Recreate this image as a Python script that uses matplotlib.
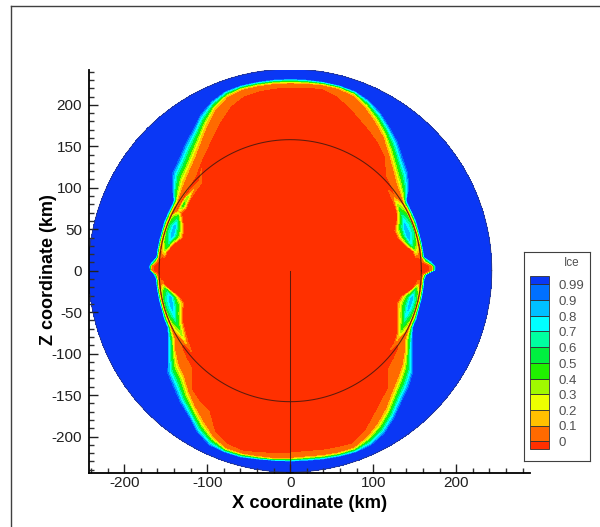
import numpy as np
import matplotlib
matplotlib.use("Agg")
import matplotlib.pyplot as plt
from matplotlib.patches import Rectangle

plt.rcParams['font.family'] = ['Liberation Sans', 'DejaVu Sans']
plt.rcParams['axes.unicode_minus'] = False

# Contour levels and colours of the Ice legend
levels = [-1, 0, 0.1, 0.2, 0.3, 0.4, 0.5, 0.6, 0.7, 0.8, 0.9, 0.99, 2]
colors = ['#ff3000', '#ff6a00', '#ffc000', '#ecff00', '#a0f800', '#20f000',
          '#00f040', '#00ffa0', '#00ffff', '#00c0ff', '#0070ff', '#0a37f5']
legend_labels = ['0', '0.1', '0.2', '0.3', '0.4', '0.5', '0.6', '0.7', '0.8', '0.9', '0.99']

outer_radius = 243
ring_radius = 158

# Angle away from the x axis (deg), the same for each quadrant
angles = [0, 2, 4, 6, 9, 13, 17, 21, 25, 28, 31, 35, 40, 45, 50, 55, 60, 65, 70, 75, 80, 85, 90]

# Radius (km) where ice leaves the red zone, ends the orange zone and reaches full blue
tl_red = [166, 166, 160, 158, 158, 158, 158, 158, 158, 158, 158, 158.5, 160, 165, 170, 178, 188, 200, 212, 219, 221, 222, 222]
tl_yellow = [168, 168, 162, 160, 160, 160, 160, 160, 160, 160, 160, 163, 168, 173, 180, 190, 203, 216, 224, 227, 227, 227, 227]
tl_blue = [170, 171, 168, 163, 163, 163, 163, 164, 164, 164, 165, 175, 186, 191, 199, 207, 218, 226, 231, 232, 232, 232, 232]

tr_red = [169, 169, 160, 158, 158, 158, 158, 158, 158, 158, 158, 159.5, 163, 172, 180, 188, 195, 202, 211, 219, 224, 223, 222]
tr_yellow = [172, 172, 162, 160, 160, 160, 160, 160, 160, 160, 160, 163, 168, 176, 186, 198, 208, 218, 226, 228, 228, 227, 227]
tr_blue = [176, 176, 171, 163, 163, 163, 163, 164, 164, 164, 165, 176, 186, 193, 203, 211, 220, 227, 231, 232, 232, 232, 232]

bl_red = [166, 159, 158, 158, 158, 158, 158, 158, 158, 158, 159, 165, 172, 179, 187, 193, 197, 216, 224, 226, 224, 222, 221]
bl_yellow = [168, 161, 160, 160, 160, 160, 160, 160, 160, 161, 163, 170, 177, 182, 192, 202, 212, 222, 229, 229, 228, 228, 227]
bl_blue = [170, 165, 163, 163, 163, 163, 163, 164, 164, 168, 173, 181, 194, 200, 208, 215, 226, 233, 234, 234, 232, 231, 231]

br_red = [169, 159, 158, 158, 158, 158, 158, 158, 158, 158, 158.5, 165, 172, 179, 186, 193, 203, 215, 223, 222, 221, 220, 221]
br_yellow = [172, 161, 160, 160, 160, 160, 160, 160, 160, 161, 163, 170, 178, 185, 193, 204, 214, 222, 228, 228, 227, 226, 227]
br_blue = [176, 165, 163, 163, 163, 163, 163, 164, 164, 168, 173, 181, 194, 202, 209, 219, 228, 233, 234, 233, 232, 231, 231]

# Pockets of ice just inside the ring: where the rise starts, peak radius and value, dip radius and value
pocket_angles = [6, 9, 13, 17, 21, 25, 28, 31, 35, 40, 45]

tl_start = [150, 150, 144, 136, 137, 143, 148, 146, 148, 149, 150]
tl_peak_r = [152, 153, 150, 148, 149, 150, 152, 151, 152, 152, 152.5]
tl_peak = [-0.01, 0.3, 0.65, 0.88, 0.85, 0.55, 0.15, 0.45, 0.35, 0.1, 0.05]
tl_dip_r = [155, 155, 155, 155, 155.5, 155, 154, 154.5, 155, 155, 155]
tl_dip = [-0.01, 0.2, 0.4, 0.55, 0.5, 0.35, -0.01, -0.01, -0.02, -0.02, -0.02]

tr_start = [150, 150, 141, 136, 135, 142, 146, 148, 150, 152, 153]
tr_peak_r = [152, 153, 149, 148, 148, 150, 151, 152, 153, 153, 154]
tr_peak = [-0.01, 0.3, 0.75, 0.9, 0.85, 0.7, 0.5, 0.35, 0.1, -0.01, -0.01]
tr_dip_r = [155, 155, 155, 155.5, 155.5, 155.5, 155.5, 155.5, 155, 155.5, 155.5]
tr_dip = [-0.01, 0.2, 0.4, 0.6, 0.6, 0.5, 0.35, 0.2, 0.0, -0.01, -0.01]

bl_start = [153, 147, 138, 134, 139, 143, 145, 147, 150, 153, 153]
bl_peak_r = [155, 151, 148, 149, 150, 151, 151, 152, 153, 154, 154]
bl_peak = [0.1, 0.55, 0.88, 0.85, 0.75, 0.55, 0.4, 0.3, 0.1, -0.01, -0.01]
bl_dip_r = [156, 155.5, 155.5, 155.5, 155.5, 155.5, 155.5, 155.5, 155.5, 156, 156]
bl_dip = [0.02, 0.35, 0.55, 0.55, 0.45, 0.3, 0.2, 0.05, -0.01, -0.01, -0.01]

br_start = [153, 148, 138, 135, 138, 143, 147, 150, 153, 153, 153]
br_peak_r = [155, 152, 150, 150, 150, 151, 152, 153, 154, 154, 154]
br_peak = [0.1, 0.55, 0.88, 0.85, 0.75, 0.55, 0.4, 0.2, 0.02, -0.01, -0.01]
br_dip_r = [156, 155.5, 155.5, 155.5, 155.5, 155.5, 155.5, 155.5, 156, 156, 156]
br_dip = [0.02, 0.35, 0.55, 0.55, 0.45, 0.3, 0.2, 0.05, -0.01, -0.01, -0.01]


def quadrant_rows(red, yellow, blue, start, peak_r, peak, dip_r, dip):
    """Build (radius, ice) node rows along the rays of one quadrant."""
    radius = []
    ice = []
    for i, a in enumerate(angles):
        if a in pocket_angles:
            k = pocket_angles.index(a)
            inner = [start[k], peak_r[k], dip_r[k]]
            values = [peak[k], dip[k]]
        else:
            inner = [red[i] - 6, red[i] - 4, red[i] - 2]
            values = [-0.01, -0.01]
        radius.append([0, inner[0], inner[1], inner[2], red[i], yellow[i], blue[i], outer_radius])
        ice.append([-0.05, -0.01, values[0], values[1], 0.01, 0.11, 0.99, 1.0])
    return np.array(radius, dtype=float), np.array(ice)


r_tr, c_tr = quadrant_rows(tr_red, tr_yellow, tr_blue, tr_start, tr_peak_r, tr_peak, tr_dip_r, tr_dip)
r_tl, c_tl = quadrant_rows(tl_red, tl_yellow, tl_blue, tl_start, tl_peak_r, tl_peak, tl_dip_r, tl_dip)
r_bl, c_bl = quadrant_rows(bl_red, bl_yellow, bl_blue, bl_start, bl_peak_r, bl_peak, bl_dip_r, bl_dip)
r_br, c_br = quadrant_rows(br_red, br_yellow, br_blue, br_start, br_peak_r, br_peak, br_dip_r, br_dip)

a = np.array(angles, dtype=float)
theta = np.radians(np.concatenate([a, 180 - a[::-1], 180 + a, 360 - a[::-1], [360]]))
radius = np.vstack([r_tr, r_tl[::-1], r_bl, r_br[::-1], r_tr[:1]])
ice = np.vstack([c_tr, c_tl[::-1], c_bl, c_br[::-1], c_tr[:1]])
X = radius * np.cos(theta)[:, None]
Z = radius * np.sin(theta)[:, None]

W, H = 600, 527
fig = plt.figure(figsize=(W / 100, H / 100), dpi=100)

# outer frame of the page
fig.add_artist(plt.Line2D([11 / W, 11 / W], [0, 1 - 6 / H], color='#404040', lw=1))
fig.add_artist(plt.Line2D([11 / W, 1], [1 - 6 / H, 1 - 6 / H], color='#404040', lw=1))

ax = fig.add_axes([89 / W, 1 - 473 / H, (530 - 89) / W, (473 - 70) / H])
ax.contourf(X, Z, ice, levels=levels, colors=colors)

t = np.linspace(0, 2 * np.pi, 361)
ax.plot(outer_radius * np.cos(t), outer_radius * np.sin(t), color='#303870', lw=0.5)
ax.plot(ring_radius * np.cos(t), ring_radius * np.sin(t), color='#401810', lw=0.75, alpha=0.85)
ax.plot([0, 0], [0, -outer_radius], color='#401810', lw=0.75, alpha=0.85)

ax.set_xlim(-242.5, 289)
ax.set_ylim(-244, 242)
ax.set_facecolor('none')
for side in ['top', 'right']:
    ax.spines[side].set_visible(False)
for side in ['left', 'bottom']:
    ax.spines[side].set_linewidth(1.3)

ax.set_xticks(np.arange(-200, 201, 100))
ax.set_xticks(np.arange(-240, 281, 20), minor=True)
ax.set_yticks(np.arange(-200, 201, 50))
ax.set_yticks(np.arange(-240, 241, 10), minor=True)
ax.tick_params(which='major', direction='in', length=6.5, width=1, labelsize=11, color='#202020')
ax.tick_params(which='minor', direction='in', length=3.5, width=1, color='#303030')
ax.tick_params(axis='x', which='major', pad=2.5)
ax.tick_params(axis='y', which='major', pad=5)
for lab in ax.get_xticklabels() + ax.get_yticklabels():
    lab.set_color('#202020')

fig.text(310 / W, 1 - 503 / H, 'X coordinate (km)', ha='center', va='center', fontsize=13.2, fontweight='bold')
fig.text(49 / W, 1 - 270 / H, 'Z coordinate (km)', ha='center', va='center', rotation=90, fontsize=13, fontweight='bold')

# Ice legend box
leg = fig.add_axes([523.5 / W, 1 - 460.5 / H, (590 - 523.5) / W, (460.5 - 251.5) / H])
leg.set_xlim(523.5, 590)
leg.set_ylim(460.5, 251.5)
leg.set_xticks([])
leg.set_yticks([])
for side in leg.spines:
    leg.spines[side].set_linewidth(0.8)
    leg.spines[side].set_color('#404040')

edges = [449.3, 441, 425.5, 410, 394.3, 378.7, 362.7, 347.3, 331.3, 315.7, 300, 284.3, 275.7]
for i in range(len(colors)):
    leg.add_patch(Rectangle((529.5, edges[i]), 19.5, edges[i + 1] - edges[i], facecolor=colors[i],
                            edgecolor='#303030', lw=0.6))
for i, lab in enumerate(legend_labels):
    leg.text(558.5, edges[i + 1] + 2, lab, fontsize=9.5, color='#505050', va='center', ha='left')
leg.text(571.5, 262.5, 'Ice', fontsize=8.5, color='#505050', va='center', ha='center')

fig.savefig('out.png', dpi=100)
